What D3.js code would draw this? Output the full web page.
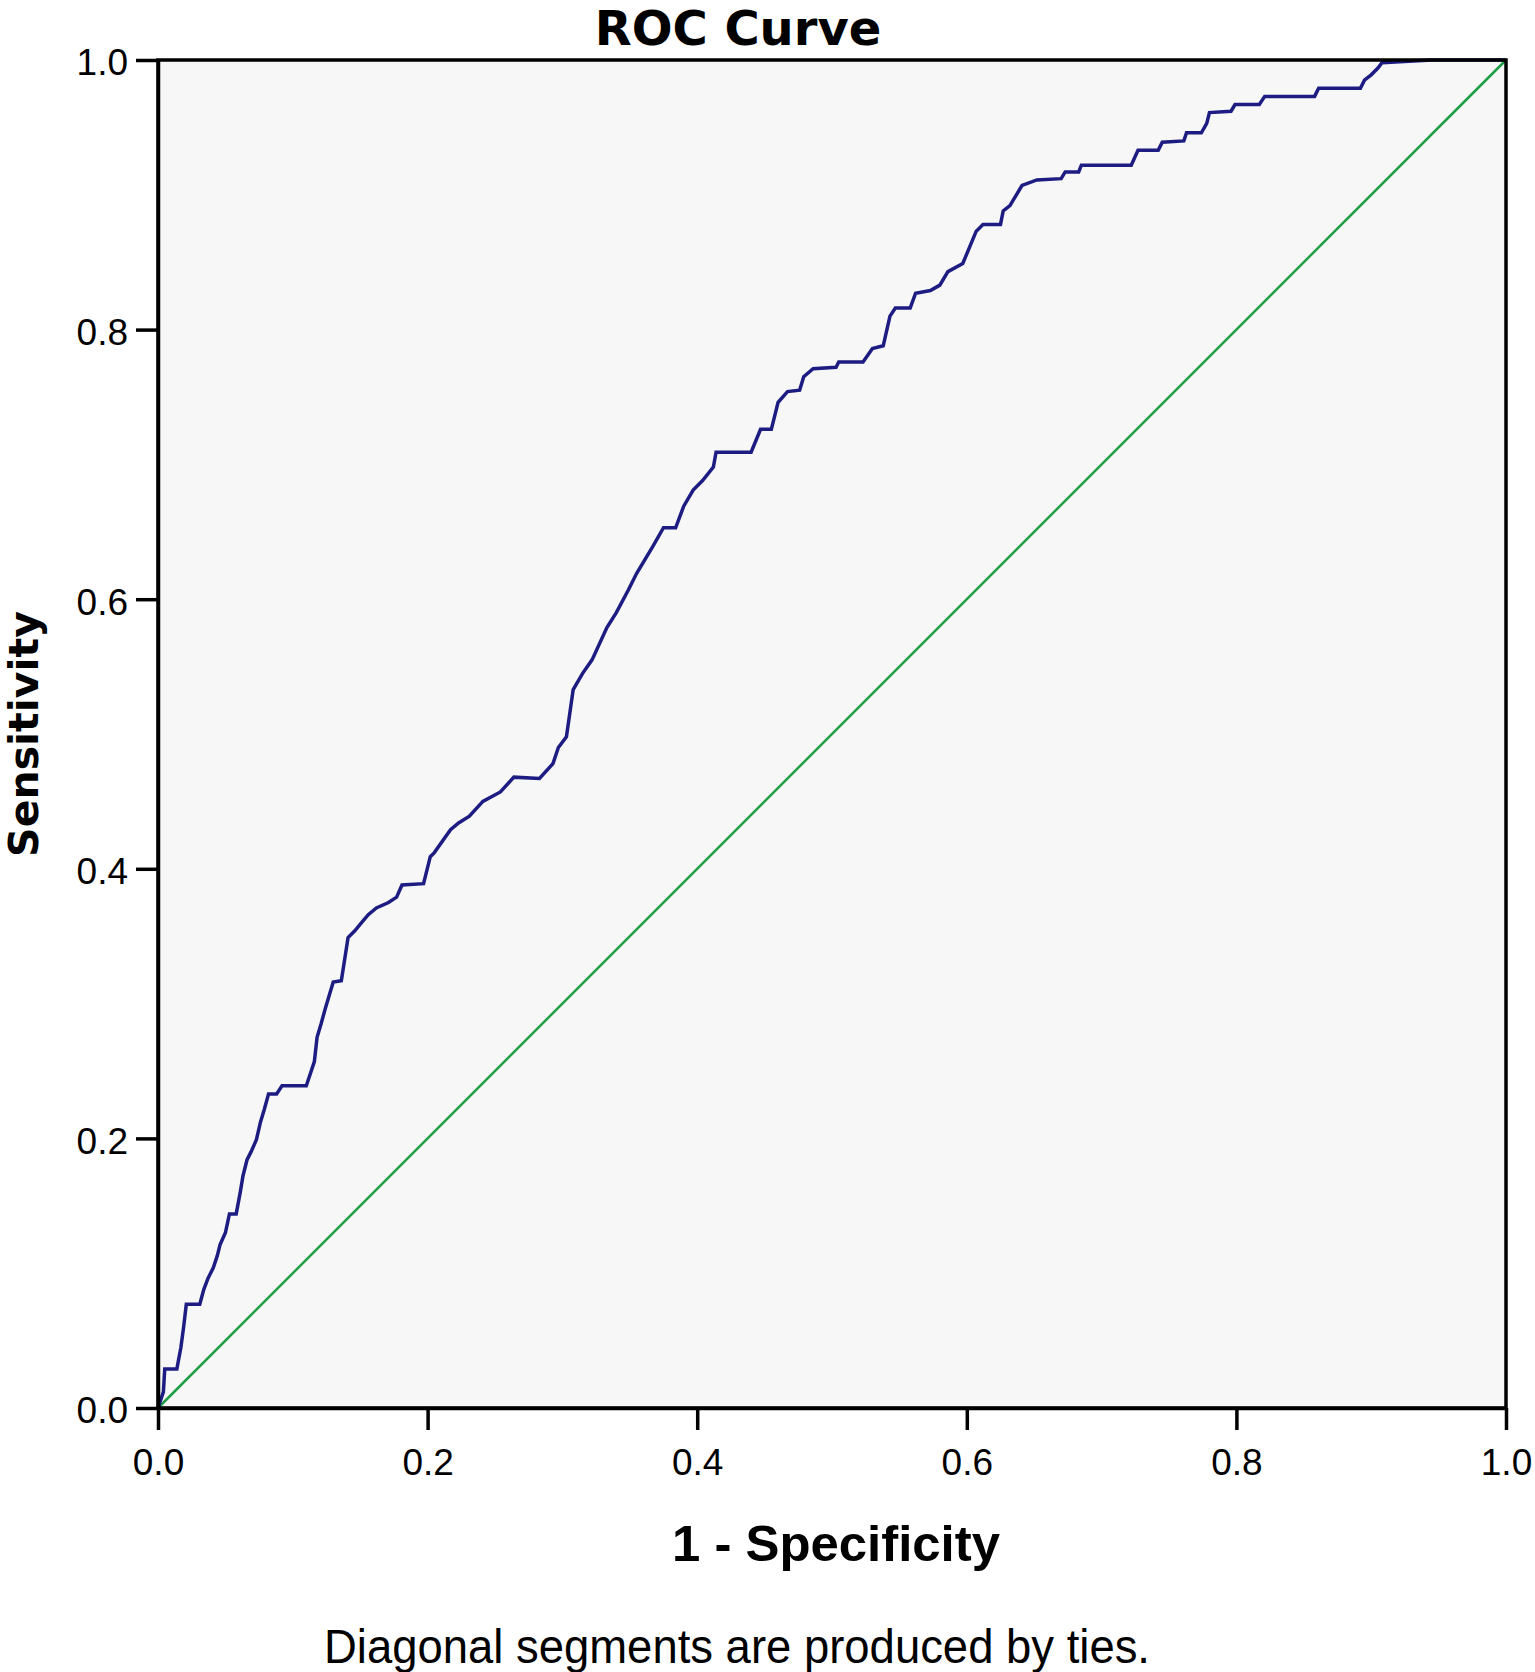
<!DOCTYPE html>
<html>
<head>
<meta charset="utf-8">
<script src="https://cdn.jsdelivr.net/npm/d3@7"></script>
<style>
  body { margin: 0; background: #fff; }
</style>
</head>
<body>
<div id="chart"></div>
<script>
// ROC curve points
const fpr = [0, 0.004, 0.005, 0.014, 0.017, 0.019, 0.021, 0.031, 0.034, 0.037, 0.041, 0.044, 0.046, 0.050,
  0.053, 0.058, 0.061, 0.063, 0.066, 0.069, 0.073, 0.076, 0.079, 0.082, 0.088, 0.092, 0.110, 0.116, 0.118,
  0.121, 0.124, 0.127, 0.130, 0.136, 0.141, 0.146, 0.151, 0.156, 0.162, 0.171, 0.177, 0.181, 0.197, 0.202,
  0.205, 0.217, 0.223, 0.231, 0.241, 0.254, 0.264, 0.283, 0.293, 0.297, 0.303, 0.308, 0.315, 0.322, 0.333,
  0.340, 0.349, 0.355, 0.367, 0.375, 0.384, 0.390, 0.397, 0.404, 0.412, 0.414, 0.440, 0.447, 0.455, 0.460,
  0.467, 0.476, 0.479, 0.486, 0.503, 0.505, 0.523, 0.530, 0.538, 0.543, 0.547, 0.558, 0.562, 0.573, 0.580,
  0.586, 0.597, 0.607, 0.612, 0.625, 0.627, 0.632, 0.641, 0.652, 0.670, 0.673, 0.683, 0.685, 0.722, 0.727,
  0.742, 0.745, 0.761, 0.763, 0.774, 0.778, 0.780, 0.796, 0.799, 0.817, 0.821, 0.858, 0.861, 0.892, 0.895,
  0.900, 0.905, 0.908, 0.945, 1];
const tpr = [0, 0.012, 0.029, 0.029, 0.045, 0.060, 0.077, 0.077, 0.088, 0.096, 0.104, 0.113, 0.121, 0.130,
  0.144, 0.144, 0.160, 0.172, 0.184, 0.190, 0.199, 0.212, 0.222, 0.233, 0.233, 0.239, 0.239, 0.257, 0.275,
  0.285, 0.296, 0.306, 0.316, 0.317, 0.349, 0.354, 0.360, 0.366, 0.371, 0.375, 0.379, 0.388, 0.389, 0.409,
  0.412, 0.429, 0.434, 0.439, 0.450, 0.457, 0.468, 0.467, 0.478, 0.490, 0.498, 0.533, 0.545, 0.555, 0.579,
  0.590, 0.607, 0.619, 0.639, 0.653, 0.653, 0.669, 0.681, 0.688, 0.698, 0.709, 0.709, 0.726, 0.726, 0.746,
  0.754, 0.755, 0.765, 0.771, 0.772, 0.776, 0.776, 0.786, 0.788, 0.810, 0.816, 0.816, 0.827, 0.829, 0.833,
  0.843, 0.849, 0.873, 0.878, 0.878, 0.888, 0.892, 0.907, 0.911, 0.912, 0.917, 0.917, 0.922, 0.922, 0.933,
  0.933, 0.939, 0.940, 0.946, 0.946, 0.953, 0.961, 0.962, 0.967, 0.967, 0.973, 0.973, 0.979, 0.979, 0.985,
  0.989, 0.994, 0.998, 1.0, 1];
const refLine = [0, 1];
const tickValues = [0, 0.2, 0.4, 0.6, 0.8, 1.0];

const margin = {top: 60, right: 29, bottom: 264, left: 158},
      width  = 1348,
      height = 1348;

const svg = d3.select("#chart")
  .append("svg")
    .attr("width",  width  + margin.left + margin.right)
    .attr("height", height + margin.top  + margin.bottom)
  .append("g")
    .attr("transform", `translate(${margin.left},${margin.top})`);

const x = d3.scaleLinear().domain([0, 1]).range([0, width]);
const y = d3.scaleLinear().domain([0, 1]).range([height, 0]);

// plot background
svg.append("rect")
  .attr("width", width).attr("height", height)
  .style("fill", "#f7f7f7");

// Title
svg.append("text")
  .attr("x", 580)
  .attr("y", -15)
  .attr("text-anchor", "middle")
  .style("font-family", "DejaVu Sans")
  .style("font-weight", "bold")
  .style("font-size", "48px")
  .text("ROC Curve");

// reference diagonal
svg.append("line")
  .attr("x1", x(refLine[0])).attr("y1", y(refLine[0]))
  .attr("x2", x(refLine[1])).attr("y2", y(refLine[1]))
  .style("stroke", "#1f9e45")
  .style("stroke-width", 2.5);

// ROC curve
const pts = fpr.map((d, i) => [d, tpr[i]]);
svg.append("path")
  .datum(pts)
  .attr("d", d3.line().x(d => x(d[0])).y(d => y(d[1])))
  .style("fill", "none")
  .style("stroke", "#1c1c82")
  .style("stroke-width", 3.5)
  .style("stroke-linejoin", "miter");

// frame
svg.append("rect")
  .attr("width", width).attr("height", height)
  .style("fill", "none")
  .style("stroke", "#000")
  .style("stroke-width", 3.5);

// Axes
const xAxis = svg.append("g")
  .attr("transform", `translate(0,${height})`)
  .call(d3.axisBottom(x).tickValues(tickValues).tickFormat(d3.format(".1f")).tickSize(22).tickSizeOuter(0).tickPadding(10));
const yAxis = svg.append("g")
  .call(d3.axisLeft(y).tickValues(tickValues).tickFormat(d3.format(".1f")).tickSize(22).tickSizeOuter(0).tickPadding(8));

[xAxis, yAxis].forEach(a => {
  a.select(".domain").style("stroke", "#000").style("stroke-width", 3.5);
  a.selectAll(".tick line").style("stroke", "#000").style("stroke-width", 3.5);
  a.selectAll("text")
    .style("font-family", "Liberation Sans, Arial, sans-serif")
    .style("font-size", "37px")
    .style("fill", "#000");
});
xAxis.selectAll("text").attr("dy", "0.95em");
yAxis.selectAll("text").attr("dy", "0.4em");

// axis labels
svg.append("text")
  .attr("x", 678)
  .attr("y", height + 153)
  .attr("text-anchor", "middle")
  .attr("textLength", 328)
  .attr("lengthAdjust", "spacingAndGlyphs")
  .style("font-family", "Liberation Sans, Arial, sans-serif")
  .style("font-weight", "bold")
  .style("font-size", "50px")
  .text("1 - Specificity");

svg.append("text")
  .attr("transform", `translate(${-120},${y(0.5)}) rotate(-90)`)
  .attr("text-anchor", "middle")
  .style("font-family", "DejaVu Sans")
  .style("font-weight", "bold")
  .style("font-size", "41px")
  .text("Sensitivity");

// footnote
svg.append("text")
  .attr("x", 579)
  .attr("y", height + 255)
  .attr("text-anchor", "middle")
  .attr("textLength", 826)
  .attr("lengthAdjust", "spacingAndGlyphs")
  .style("font-family", "Liberation Sans, Arial, sans-serif")
  .style("font-size", "48px")
  .text("Diagonal segments are produced by ties.");
</script>
</body>
</html>
